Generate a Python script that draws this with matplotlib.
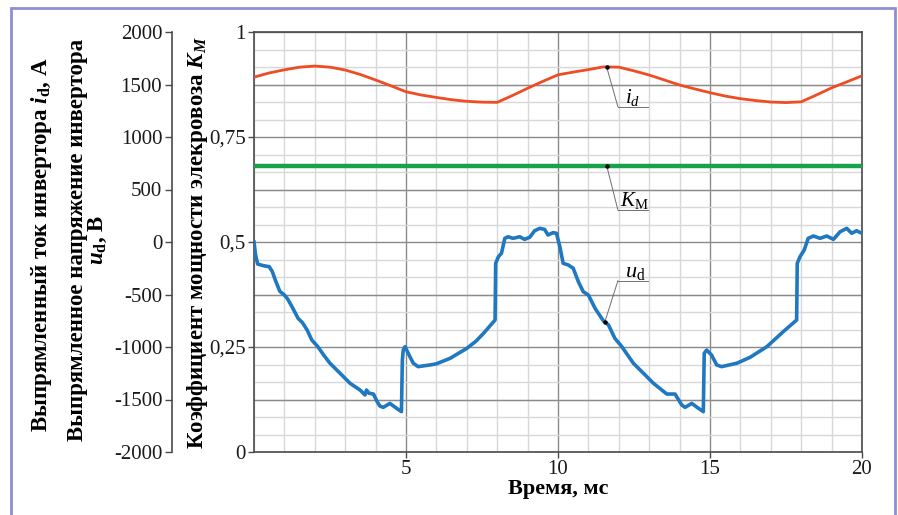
import numpy as np
import matplotlib
matplotlib.use("Agg")
import matplotlib.pyplot as plt
from matplotlib.patches import Rectangle
from matplotlib.ticker import FixedLocator, FixedFormatter

plt.rcParams['font.family'] = ['Liberation Serif', 'DejaVu Serif']
plt.rcParams['mathtext.fontset'] = 'custom'
plt.rcParams['mathtext.rm'] = 'Liberation Serif'
plt.rcParams['mathtext.it'] = 'Liberation Serif:italic'
plt.rcParams['mathtext.bf'] = 'Liberation Serif:bold'
plt.rcParams['mathtext.bfit'] = 'Liberation Serif:bold:italic'

# ---- data ----
# rectified inverter current i_d, A
t_id = [0.0, 0.5, 1.0, 1.5, 2.0, 2.5, 3.0, 3.5, 4.0, 4.5, 5.0, 5.5, 6.0, 6.5, 7.0,
        7.5, 8.0, 8.5, 9.0, 9.5, 10.0, 10.5, 11.0, 11.5, 12.0, 12.5, 13.0, 13.5,
        14.0, 14.5, 15.0, 15.5, 16.0, 16.5, 17.0, 17.5, 18.0, 18.5, 19.0, 19.5, 20.0]
i_d = [1570, 1610, 1640, 1665, 1676, 1665, 1638, 1595, 1543, 1488, 1431, 1400, 1377,
       1355, 1340, 1332, 1330, 1395, 1464, 1530, 1592, 1618, 1642, 1668, 1665, 1630,
       1590, 1543, 1495, 1458, 1422, 1390, 1365, 1347, 1333, 1328, 1335, 1400, 1468,
       1525, 1583]

# rectified inverter voltage u_d, V
t_ud = [0.0, 0.05, 0.12, 0.3, 0.5, 0.6, 0.7, 0.85, 1.0, 1.1, 1.25, 1.45, 1.6, 1.75,
        1.9, 2.1, 2.3, 2.5, 2.83, 3.16, 3.49, 3.65, 3.7, 3.78, 3.93, 4.05, 4.14, 4.25,
        4.47, 4.69, 4.85, 4.88, 4.91, 4.97, 5.1, 5.24, 5.4, 5.79, 6.0, 6.45, 7.0, 7.3,
        7.55, 7.93, 7.95, 8.04, 8.14, 8.25, 8.36, 8.52, 8.74, 8.9, 9.07, 9.23, 9.4,
        9.56, 9.67, 9.84, 9.95, 10.06, 10.17, 10.34, 10.5, 10.67, 10.83, 11.0, 11.22,
        11.49, 11.66, 11.87, 12.1, 12.48, 12.81, 13.14, 13.58, 13.85, 14.07, 14.18,
        14.4, 14.62, 14.78, 14.81, 14.89, 15.05, 15.22, 15.38, 15.88, 16.32, 16.87,
        17.41, 17.85, 17.87, 17.96, 18.1, 18.23, 18.4, 18.62, 18.84, 19.06, 19.28,
        19.5, 19.66, 19.82, 19.95, 20.0]
u_d = [0, -120, -210, -225, -235, -280, -362, -470, -505, -540, -616, -727, -770, -840,
       -933, -997, -1080, -1155, -1250, -1346, -1410, -1457, -1410, -1440, -1448, -1520,
       -1562, -1575, -1537, -1584, -1616, -1124, -1029, -997, -1076, -1155, -1187, -1171,
       -1160, -1108, -1013, -945, -870, -743, -203, -140, -108, 35, 50, 35, 50, 25, 45,
       107, 130, 120, 67, 89, 83, -44, -203, -219, -250, -378, -473, -505, -632, -750,
       -790, -917, -997, -1155, -1250, -1346, -1448, -1448, -1552, -1575, -1537, -1584,
       -1616, -1060, -1029, -1076, -1171, -1187, -1155, -1098, -997, -854, -743, -203,
       -140, -76, 35, 57, 35, 57, 25, 98, 130, 83, 107, 89, 85]

# power factor of the locomotive K_M
t_km = [0.0, 20.0]
k_m = [0.682, 0.682]

x_ticks = [5, 10, 15, 20]
x_labels = ["5", "10", "15", "20"]
k_ticks = [0, 0.25, 0.5, 0.75, 1.0]
k_labels = ["0", "0,25", "0,5", "0,75", "1"]
v_ticks = [-2000, -1500, -1000, -500, 0, 500, 1000, 1500, 2000]
v_labels = ["-2000", "-1500", "-1000", "-500", "0", "500", "1000", "1500", "2000"]

# ---- figure ----
W, H = 898, 515
fig = plt.figure(figsize=(W / 100, H / 100), dpi=100)
fig.patch.set_facecolor('white')


def fx(px):
    return px / W


def fy(py):
    return 1 - py / H


AX_L, AX_R, AX_T, AX_B = 254, 862, 32, 452
rect = [fx(AX_L), fy(AX_B), (AX_R - AX_L) / W, (AX_B - AX_T) / H]

# outer frame
fig.patches.append(Rectangle((fx(11), fy(530)), (895 - 11) / W, (530 - 8) / H,
                             transform=fig.transFigure, fill=False,
                             ec='#8e8ed4', lw=2.0))

ax = fig.add_axes(rect, zorder=1)
axv = fig.add_axes(rect, zorder=2)
axv.patch.set_visible(False)

dark_grid = '#8a8a8a'
light_grid = '#d8d8d8'
spine_col = '#4a4a4a'

ax.set_xlim(0, 20)
ax.set_ylim(0, 1)
ax.xaxis.set_major_locator(FixedLocator(x_ticks))
ax.xaxis.set_major_formatter(FixedFormatter(x_labels))
ax.xaxis.set_minor_locator(FixedLocator(np.arange(0, 21, 1)))
ax.yaxis.set_major_locator(FixedLocator(k_ticks))
ax.yaxis.set_major_formatter(FixedFormatter(k_labels))
ax.yaxis.set_minor_locator(FixedLocator(np.arange(0, 25) / 24))
ax.grid(which='minor', color=light_grid, lw=1.0)
ax.grid(which='major', color=dark_grid, lw=1.0)
for yv in [0.125, 0.375, 0.625, 0.875]:
    ax.axhline(yv, color=dark_grid, lw=1.0, zorder=0.6)
ax.set_axisbelow(True)
ax.tick_params(which='major', direction='out', length=4, width=1,
               color=spine_col, labelsize=15, pad=2, labelcolor='#1a1a1a')
ax.tick_params(which='minor', length=0)
for s in ax.spines.values():
    s.set_color(spine_col)
    s.set_linewidth(1.2)

ax.plot(t_km, k_m, color='#17a34a', lw=3.2, solid_capstyle='butt', zorder=3)

# voltage / current axis
axv.set_xlim(0, 20)
axv.set_ylim(-2000, 2000)
axv.xaxis.set_visible(False)
for name in ['top', 'right', 'bottom']:
    axv.spines[name].set_visible(False)
axv.spines['left'].set_position(('axes', -(AX_L - 172) / (AX_R - AX_L)))
axv.spines['left'].set_color(spine_col)
axv.spines['left'].set_linewidth(1.2)
axv.yaxis.set_major_locator(FixedLocator(v_ticks))
axv.yaxis.set_major_formatter(FixedFormatter(v_labels))
axv.tick_params(direction='out', length=5, width=1, color=spine_col,
                labelsize=15, pad=2, labelcolor='#1a1a1a')

axv.plot(t_id, i_d, color='#ef4c23', lw=2.0, zorder=3)
axv.plot(t_ud, u_d, color='#1f78c0', lw=2.6, zorder=3, solid_joinstyle='round')

# curve labels with leader lines
lead = dict(color='#707070', lw=0.7, zorder=4)
t_mark = 11.6
y_id = np.interp(t_mark, t_id, i_d)
axv.plot([t_mark, 11.97], [y_id, 1289], **lead)
axv.plot([11.97, 12.96], [1289, 1289], **lead)
axv.plot([t_mark], [y_id], 'o', color='black', ms=2.2, zorder=5)
axv.text(12.2, 1320, r"$i_d$", fontsize=15, ha='left', va='baseline')

y_km = np.interp(t_mark, t_km, k_m) * 4000 - 2000
axv.plot([t_mark, 11.97], [y_km, 305], **lead)
axv.plot([11.97, 12.96], [305, 305], **lead)
axv.plot([t_mark], [y_km], 'o', color='black', ms=2.2, zorder=5)
axv.text(12.05, 340, r"$K_{\mathrm{M}}$", fontsize=15, ha='left', va='baseline')

t_mu = 11.54
y_ud = np.interp(t_mu, t_ud, u_d)
axv.plot([t_mu, 11.97], [y_ud, -369], **lead)
axv.plot([11.97, 12.96], [-369, -369], **lead)
axv.plot([t_mu], [y_ud], 'o', color='black', ms=2.2, zorder=5)
axv.text(12.2, -335, r"$u_{\mathrm{d}}$", fontsize=16, ha='left', va='baseline')

# axis titles
ax.set_xlabel("Время, мс", fontsize=16, fontweight='bold', labelpad=0)
fig.text(fx(42), fy(245),
         "Выпрямленный ток инвертора $\\mathbfit{i}_{\\mathbf{d}}$, А",
         rotation=90, ha='center', va='center', fontsize=16.5, fontweight='bold')
fig.text(fx(88), fy(240),
         "Выпрямленное напряжение инвертора\n$\\mathbfit{u}_{\\mathbf{d}}$, В",
         rotation=90, ha='center', va='center', fontsize=16.5, fontweight='bold',
         multialignment='center', linespacing=0.95)
fig.text(fx(198), fy(242),
         "Коэффициент мощности элекровоза $\\mathbfit{K}_{\\mathbfit{M}}$",
         rotation=90, ha='center', va='center', fontsize=16.5, fontweight='bold')

fig.savefig("out.png", dpi=100, facecolor='white')
